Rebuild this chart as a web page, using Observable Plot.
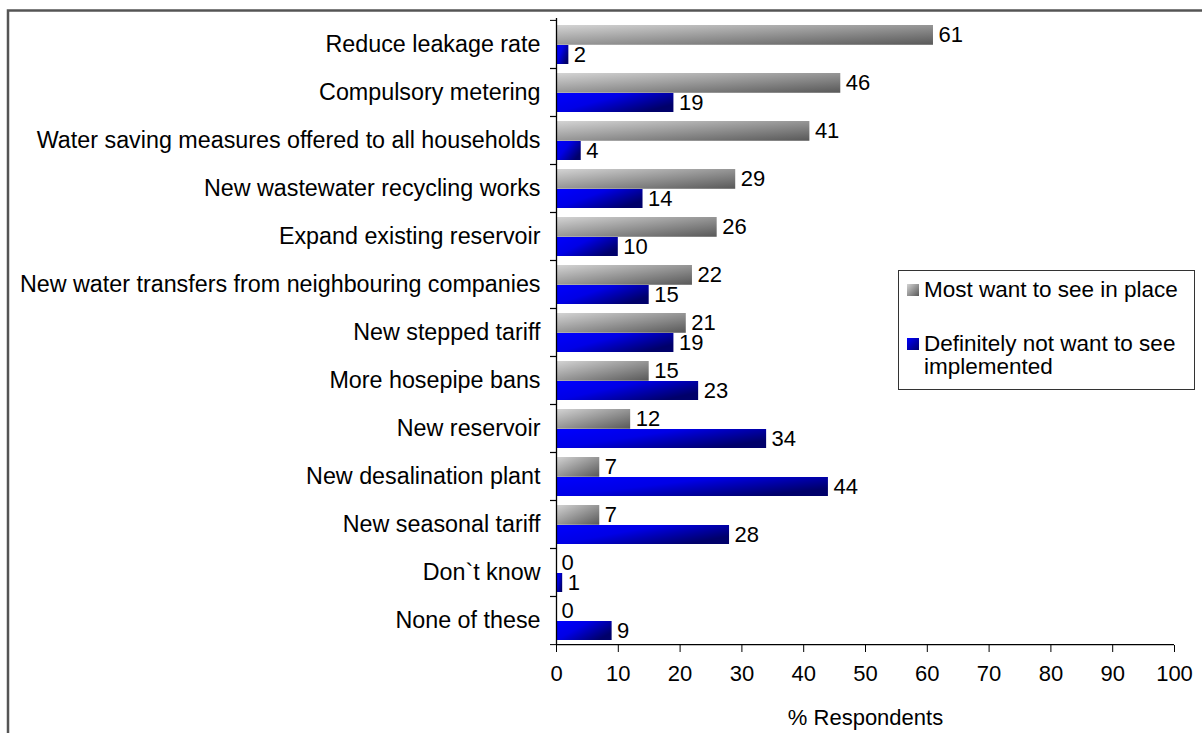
<!DOCTYPE html>
<html>
<head>
<meta charset="utf-8">
<script src="https://cdn.jsdelivr.net/npm/d3@7"></script>
<script src="https://cdn.jsdelivr.net/npm/@observablehq/plot@0.6"></script>
<style>
  html, body { margin: 0; padding: 0; background: #fff; }
  #wrap { position: relative; width: 1202px; height: 733px; overflow: hidden; font-family: "Liberation Sans", Arial, sans-serif; }
  #chart { position: absolute; left: 0; top: 0; z-index: 1; }
  #legend { position: absolute; left: 898px; top: 270px; width: 297px; height: 120px; border: 1px solid #333; background: #fff; box-sizing: border-box; font-size: 22.5px; line-height: 23px; color: #000; z-index: 6; }
  .item { position: absolute; left: 8px; }
  .sw { position: absolute; left: 0; top: 6px; width: 12px; height: 12px; }
  .lab { position: absolute; left: 17px; top: 0; white-space: nowrap; }
</style>
</head>
<body>
<div id="wrap">
  <div id="chart"></div>
  <div id="legend"></div>
</div>
<script>
const categories = [
  "Reduce leakage rate",
  "Compulsory metering",
  "Water saving measures offered to all households",
  "New wastewater recycling works",
  "Expand existing reservoir",
  "New water transfers from neighbouring companies",
  "New stepped tariff",
  "More hosepipe bans",
  "New reservoir",
  "New desalination plant",
  "New seasonal tariff",
  "Don`t know",
  "None of these"
];
const mostWant = [61, 46, 41, 29, 26, 22, 21, 15, 12, 7, 7, 0, 0];
const notWant  = [2, 19, 4, 14, 10, 15, 19, 23, 34, 44, 28, 1, 9];
const xTicks = [0, 10, 20, 30, 40, 50, 60, 70, 80, 90, 100];
const seriesNames = ["Most want to see in place", "Definitely not want to see implemented"];
const xLabel = "% Respondents";

const rows = categories.map((c, i) => ({cat: c, most: mostWant[i], not: notWant[i]}));

const H = 733, mTop = 18, mBottom = 88;
const band = (H - mTop - mBottom) / categories.length;

const chart = Plot.plot({
  width: 1202,
  height: H,
  marginLeft: 556,
  marginRight: 28,
  marginTop: mTop,
  marginBottom: mBottom,
  style: {fontFamily: "'Liberation Sans', Arial, sans-serif", fontSize: "22px", color: "#000", background: "transparent", overflow: "visible"},
  x: {domain: [0, 100], label: null},
  y: {domain: categories, padding: 0, label: null},
  marks: [
    Plot.barX(rows, {x: "most", y: "cat", fill: "url(#gGray)", insetTop: 5, insetBottom: band - 25}),
    Plot.barX(rows, {x: "not", y: "cat", fill: "url(#gBlue)", insetTop: 25, insetBottom: 4}),
    Plot.text(rows, {x: "most", y: "cat", text: d => String(d.most), dx: 5, dy: -10, textAnchor: "start", fill: "#000", fontSize: 22}),
    Plot.text(rows, {x: "not", y: "cat", text: d => String(d.not), dx: 5, dy: 10, textAnchor: "start", fill: "#000", fontSize: 22}),
    Plot.ruleX([0], {stroke: "#000", strokeWidth: 1.3}),
    Plot.ruleY([categories[categories.length - 1]], {x1: 0, x2: 100, dy: band / 2, stroke: "#000", strokeWidth: 1.3}),
    Plot.axisY({label: null, tickSize: 0, tickPadding: 16, fontSize: 23.3, fill: "#000"}),
    Plot.axisY({label: null, text: null, tickSize: 6, dy: -band / 2, stroke: "#000"}),
    Plot.axisY({label: null, text: null, tickSize: 6, dy: band / 2, stroke: "#000"}),
    Plot.axisX({label: null, ticks: xTicks, tickSize: 7, tickPadding: 13, fontSize: 22, stroke: "#000", fill: "#000"}),
    Plot.text([xLabel], {frameAnchor: "bottom", dy: 79, fontSize: 22, fill: "#000"})
  ]
});

const svgEl = chart.tagName.toLowerCase() === "svg" ? chart : chart.querySelector("svg");
const svgSel = d3.select(svgEl);
svgSel.insert("defs", ":first-child").html(`
  <linearGradient id="gGray" x1="0" y1="0" x2="1" y2="1">
    <stop offset="0" stop-color="#d4d4d4"/>
    <stop offset="1" stop-color="#585858"/>
  </linearGradient>
  <linearGradient id="gBlue" x1="0" y1="0" x2="1" y2="0.6">
    <stop offset="0" stop-color="#0000ff"/>
    <stop offset="0.45" stop-color="#0000e6"/>
    <stop offset="1" stop-color="#00006a"/>
  </linearGradient>
`);
// outer chart-area border (decorative, like the spreadsheet chart frame)
svgSel.append("path")
  .attr("d", "M8,740V10.5H1210")
  .attr("fill", "none")
  .attr("stroke", "#555")
  .attr("stroke-width", 2.5);
document.getElementById("chart").appendChild(chart);

const legend = document.getElementById("legend");
legend.innerHTML = `
  <div class="item" style="top:7px"><div class="sw" style="background:linear-gradient(135deg,#d4d4d4,#585858)"></div><div class="lab">${seriesNames[0]}</div></div>
  <div class="item" style="top:61px"><div class="sw" style="background:linear-gradient(135deg,#0000ff,#00006a)"></div><div class="lab">Definitely not want to see<br>implemented</div></div>
`;
</script>
</body>
</html>
